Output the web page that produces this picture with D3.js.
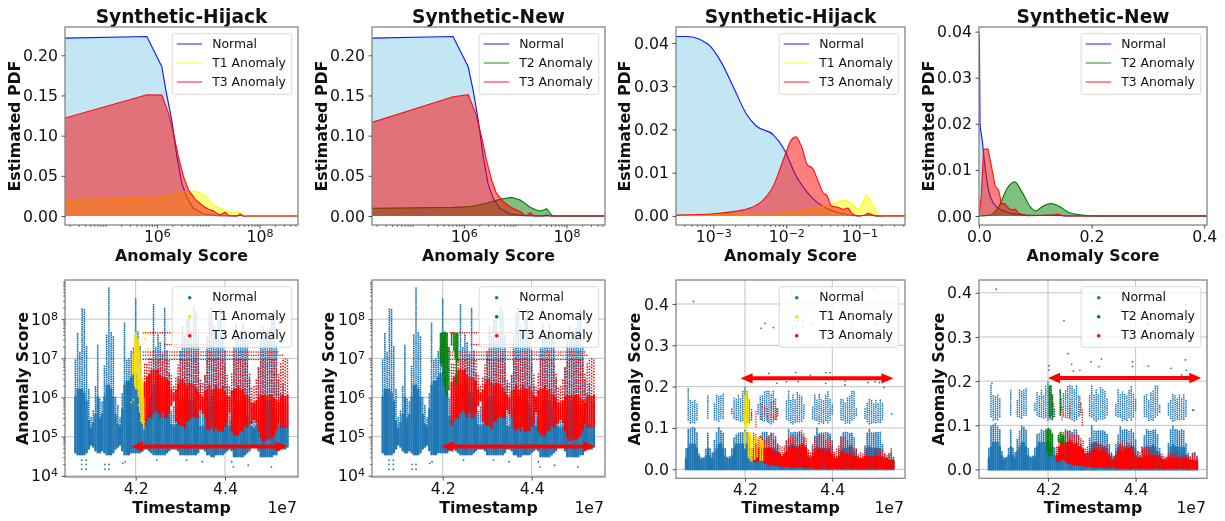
<!DOCTYPE html>
<html>
<head>
<meta charset="utf-8">
<title>Anomaly score panels</title>
<script src="https://cdn.jsdelivr.net/npm/d3@7"></script>
<style>
    html, body { margin: 0; padding: 0; background: #fff; }
    svg { display: block; filter: blur(0.45px); }
    text { font-family: "DejaVu Sans", sans-serif; fill: #111; }
</style>
</head>
<body>
<svg id="chart" width="1225" height="521"></svg>
<script>
// ---- PDF curves, log10(score) grids ----
const hijackNormalLog = [4.21, 5.805, 6.097, 6.175, 6.29, 6.39, 6.487, 6.58, 6.71, 6.91, 7.17, 7.55, 7.62, 7.68, 8.75];
const hijackNormalPdf = [0.2214, 0.2234, 0.1857, 0.1567, 0.1194, 0.0738, 0.0406, 0.024, 0.0095, 0.0025, 0.0004, 0.0001, 0.001, 0, 0];
const hijackT1Log = [4.21, 5.805, 6.195, 6.52, 6.78, 6.94, 7.1, 7.23, 7.33, 7.46, 7.59, 7.72, 7.79, 8.75];
const hijackT1Pdf = [0.0203, 0.022, 0.0253, 0.0303, 0.0307, 0.0253, 0.0137, 0.0095, 0.0062, 0.0033, 0.0054, 0.0004, 0, 0];
const hijackT3Log = [4.21, 5.805, 6.097, 6.227, 6.325, 6.42, 6.52, 6.617, 6.75, 6.877, 7.006, 7.1, 7.17, 7.23, 7.33, 7.4, 7.58, 7.62, 7.68, 8.75];
const hijackT3Pdf = [0.1219, 0.1509, 0.1505, 0.1277, 0.1028, 0.0738, 0.0489, 0.0323, 0.0207, 0.0137, 0.0083, 0.0066, 0.0033, 0.0012, 0.0046, 0.0004, 0.0001, 0.0025, 0, 0];

const newNormalLog = [4.21, 5.79, 6.084, 6.18, 6.28, 6.377, 6.47, 6.57, 6.7, 6.9, 7.16, 7.55, 7.62, 7.68, 8.75];
const newNormalPdf = [0.2214, 0.2234, 0.1857, 0.1567, 0.1194, 0.0738, 0.0406, 0.022, 0.0095, 0.0025, 0.0004, 0.0001, 0.001, 0, 0];
const newT2Log = [4.21, 5.79, 6.12, 6.44, 6.7, 6.93, 7.1, 7.29, 7.46, 7.52, 7.61, 7.71, 7.74, 8.75];
const newT2Pdf = [0.0095, 0.0108, 0.0116, 0.0158, 0.0207, 0.0232, 0.0199, 0.0108, 0.0062, 0.0066, 0.0091, 0.0012, 0, 0];
const newT3Log = [4.21, 5.79, 6.084, 6.23, 6.344, 6.44, 6.54, 6.636, 6.77, 6.9, 7.03, 7.1, 7.19, 7.22, 7.29, 7.36, 8.75];
const newT3Pdf = [0.1165, 0.1484, 0.1509, 0.1277, 0.0987, 0.0697, 0.0448, 0.0282, 0.0178, 0.0116, 0.0075, 0.0054, 0.0012, 0.0004, 0.0041, 0, 0];

// third panel, log10(score) again
const hijack2NormalLog = [-3.51, -3.356, -3.07, -2.895, -2.726, -2.54, -2.41, -2.18, -2.04, -1.86, -1.72, -1.56, -1.4, -1.22, -1.01, -0.9, -0.76, -0.374];
const hijack2NormalPdf = [0.0415, 0.0415, 0.0397, 0.0357, 0.0299, 0.0234, 0.0208, 0.0188, 0.0157, 0.0091, 0.0056, 0.0029, 0.0014, 0.0005, 0, 0.0002, 0, 0];
const hijack2T1Log = [-3.51, -2.59, -2, -1.72, -1.49, -1.36, -1.2, -1.13, -1.01, -0.97, -0.9, -0.83, -0.72, -0.65, -0.374];
const hijack2T1Pdf = [0.00015, 0.0004, 0.0008, 0.0014, 0.0022, 0.0028, 0.0036, 0.0031, 0.0015, 0.0025, 0.0047, 0.0029, 0.0002, 0, 0];
const hijack2T3Log = [-3.51, -3, -2.73, -2.54, -2.34, -2.18, -2.04, -1.93, -1.87, -1.79, -1.71, -1.64, -1.56, -1.49, -1.45, -1.38, -1.29, -1.22, -1.16, -1.1, -1.01, -0.92, -0.88, -0.81, -0.76, -0.374];
const hijack2T3Pdf = [0.0002, 0.0005, 0.001, 0.0016, 0.0033, 0.0068, 0.013, 0.0176, 0.0183, 0.016, 0.0118, 0.011, 0.0079, 0.0052, 0.0049, 0.0023, 0.002, 0.0015, 0.0018, 0.0006, 0, 0.0002, 0.0006, 0.0002, 0, 0];

// fourth panel, plain score
const new2NormalScore = [0.0006, 0.0018, 0.0053, 0.0112, 0.017, 0.026, 0.038, 0.0556, 0.079, 0.103, 0.1325, 0.156, 0.405];
const new2NormalPdf = [0.0393, 0.0201, 0.0168, 0.0103, 0.0056, 0.0027, 0.0014, 0.0006, 0.0002, 0.0001, 0.0002, 0, 0];
const new2T2Score = [0, 0.02, 0.035, 0.05, 0.0633, 0.076, 0.091, 0.101, 0.112, 0.128, 0.144, 0.159, 0.186, 0.21, 0.405];
const new2T2Pdf = [0, 0.0002, 0.002, 0.006, 0.0074, 0.0053, 0.002, 0.0011, 0.002, 0.0027, 0.002, 0.0008, 0.00015, 0, 0];
const new2T3Score = [0, 0.004, 0.008, 0.016, 0.021, 0.029, 0.035, 0.04, 0.0456, 0.0527, 0.0586, 0.0645, 0.07, 0.085, 0.1325, 0.14, 0.15, 0.405];
const new2T3Pdf = [0.0006, 0.0042, 0.0145, 0.0145, 0.0114, 0.0064, 0.0056, 0.0027, 0.0027, 0.0017, 0.0013, 0.0015, 0.0006, 0.0001, 0.0002, 0.0004, 0, 0];

// ---- Scatter columns: timestamps are in units of 1e7, as on the axis ----
const stripTimes = [4.065, 4.07, 4.075, 4.08, 4.085, 4.09, 4.095, 4.1, 4.105, 4.11, 4.115, 4.12, 4.125, 4.13, 4.135, 4.14, 4.145, 4.15, 4.155, 4.16, 4.165, 4.17, 4.175, 4.18, 4.185, 4.19, 4.195, 4.2, 4.205, 4.21, 4.215, 4.22, 4.225, 4.23, 4.235, 4.24, 4.245, 4.25, 4.255, 4.26, 4.265, 4.27, 4.275, 4.28, 4.285, 4.29, 4.295, 4.3, 4.305, 4.31, 4.315, 4.32, 4.325, 4.33, 4.335, 4.34, 4.345, 4.35, 4.355, 4.36, 4.365, 4.37, 4.375, 4.38, 4.385, 4.39, 4.395, 4.4, 4.405, 4.41, 4.415, 4.42, 4.425, 4.43, 4.435, 4.44, 4.445, 4.45, 4.455, 4.46, 4.465, 4.47, 4.475, 4.48, 4.485, 4.49, 4.495, 4.5, 4.505, 4.51, 4.515, 4.52, 4.525, 4.53, 4.535, 4.54];

// normal traffic on the log panels, log10(score): floor, top of solid part, top of dotted part
const logNormalLow = [4.6, 4.55, 4.55, 4.55, 4.55, 4.6, 4.7, 4.8, 4.75, 4.65, 4.6, 4.6, 4.65, 4.6, 4.55, 4.55, 4.55, 4.6, 4.7, 4.75, 4.8, 4.65, 4.55, 4.55, 4.55, 4.6, 4.6, 4.6, 4.6, 4.6, 4.65, 4.7, 4.7, 4.65, 4.6, 4.55, 4.55, 4.55, 4.55, 4.55, 4.55, 4.6, 4.65, 4.7, 4.7, 4.7, 4.65, 4.55, 4.55, 4.55, 4.55, 4.55, 4.55, 4.55, 4.55, 4.6, 4.7, 4.7, 4.65, 4.55, 4.55, 4.5, 4.5, 4.55, 4.55, 4.55, 4.55, 4.6, 4.65, 4.7, 4.65, 4.5, 4.5, 4.5, 4.5, 4.5, 4.55, 4.6, 4.65, 4.75, 4.75, 4.75, 4.65, 4.5, 4.5, 4.5, 4.5, 4.5, 4.5, 4.55, 4.55, 4.65, 4.7, 4.7, 4.7, 4.75];
const logNormalDense = [6.0, 6.2, 6.2, 6.2, 6.1, 5.9, 5.4, 5.2, 5.35, 5.55, 6.0, 5.45, 5.55, 6.0, 6.3, 6.3, 6.2, 6.0, 5.55, 5.3, 5.25, 5.7, 6.3, 6.4, 6.4, 6.5, 6.6, 6.6, 6.5, 6.1, 5.5, 5.4, 5.4, 5.6, 6.0, 6.3, 6.3, 6.3, 6.3, 6.1, 6.1, 6.0, 5.6, 5.3, 5.25, 5.3, 5.5, 5.9, 6.0, 6.0, 6.0, 5.9, 5.9, 5.9, 5.8, 5.5, 5.25, 5.25, 5.5, 5.7, 5.9, 6.0, 6.0, 5.9, 5.9, 5.9, 5.8, 5.5, 5.3, 5.25, 5.4, 5.7, 5.9, 5.9, 5.9, 5.9, 5.8, 5.5, 5.35, 5.25, 5.2, 5.25, 5.4, 5.7, 5.9, 5.9, 5.9, 5.9, 5.8, 5.7, 5.5, 5.3, 5.25, 5.3, 5.25, 5.25];
const logNormalTop = [7.0, 7.65, 7.2, 8.3, 8.25, 7.3, 6.2, 5.5, 5.7, 6.3, 7.35, 6.0, 5.9, 6.8, 7.6, 8.8, 7.7, 7.6, 6.0, 5.8, 5.5, 6.1, 7.9, 7.0, 7.0, 7.2, 7.3, 8.55, 7.7, 7.3, 6.0, 5.8, 5.7, 6.0, 6.6, 8.4, 7.3, 7.6, 7.4, 7.1, 8.27, 7.2, 6.6, 5.7, 5.8, 5.7, 6.5, 7.2, 7.8, 7.6, 8.0, 8.1, 7.7, 8.3, 8.2, 7.6, 6.4, 5.9, 6.6, 7.6, 8.2, 8.3, 7.8, 7.6, 8.0, 8.25, 7.6, 7.2, 6.3, 5.6, 6.2, 7.3, 7.9, 7.5, 7.7, 7.9, 7.7, 7.4, 6.5, 5.7, 5.5, 5.6, 6.8, 7.5, 7.8, 7.6, 7.7, 7.8, 8.0, 8.25, 7.3, 6.5, 6.1, 6.4, 5.9, 5.8];
const logNormalStrayT = [4.079, 4.089, 4.079, 4.089, 4.079, 4.089, 4.131, 4.14, 4.131, 4.14, 4.176, 4.171, 4.419, 4.415, 4.504, 4.452, 4.349, 4.247, 4.314];
const logNormalStrayE = [4.17, 4.17, 4.29, 4.29, 4.4, 4.4, 4.17, 4.17, 4.29, 4.29, 4.36, 4.32, 4.23, 4.36, 4.23, 4.27, 4.36, 4.4, 4.4];

// T3 anomalies on the log panels, columns from t = 4.22 on
const logT3Low = [5.3, 5.4, 5.5, 5.5, 5.6, 5.7, 5.6, 5.5, 5.6, 5.5, 5.5, 5.6, 5.8, 5.9, 5.4, 5.3, 5.3, 5.3, 5.2, 5.4, 5.4, 5.5, 5.5, 5.5, 5.5, 5.7, 5.6, 5.5, 5.2, 5.15, 5.25, 5.15, 5.25, 5.15, 5.15, 5.15, 5.25, 5.35, 5.6, 5.15, 5.05, 5.05, 5.05, 5.15, 5.15, 5.25, 5.25, 5.35, 5.35, 5.45, 5.35, 5.15, 4.95, 4.9, 4.9, 4.95, 4.95, 4.95, 5.05, 5.15, 5.35, 5.25, 5.25, 5.25, 5.25];
const logT3Dense = [6.4, 6.5, 6.6, 6.7, 6.7, 6.7, 6.7, 6.6, 6.5, 6.5, 6.45, 6.4, 6.2, 6.1, 6.2, 6.35, 6.45, 6.45, 6.35, 6.3, 6.35, 6.35, 6.3, 6.25, 6.15, 6.05, 6.0, 6.15, 6.2, 6.3, 6.2, 6.2, 6.3, 6.2, 6.2, 6.3, 6.15, 6.05, 6.0, 6.15, 6.2, 6.2, 6.3, 6.2, 6.2, 6.1, 6.05, 5.95, 5.85, 5.85, 5.9, 6.0, 6.05, 6.05, 6.05, 6.05, 6.1, 6.05, 6.0, 5.9, 5.85, 6.0, 6.05, 6.05, 6.05];
const logT3Top = [6.9, 6.9, 7.0, 7.0, 7.0, 7.0, 7.0, 7.0, 7.0, 7.0, 7.0, 7.0, 6.6, 6.3, 6.5, 6.9, 7.0, 7.0, 7.0, 7.0, 7.0, 7.0, 7.0, 7.0, 6.9, 6.5, 6.4, 6.6, 7.0, 7.0, 7.0, 7.0, 7.0, 7.0, 7.0, 7.0, 6.9, 6.6, 6.3, 6.6, 7.0, 7.0, 7.0, 7.0, 7.0, 7.0, 6.9, 6.6, 6.3, 6.3, 6.5, 6.8, 7.0, 7.0, 7.0, 7.0, 7.0, 7.0, 7.0, 7.0, 6.6, 6.9, 7.0, 7.0, 7.0];
// the score levels where T3 points line up in rows
const logRowLevel = [7.65, 7.35, 7.16, 7.08, 6.97];
const logRowStart = [4.217, 4.265, 4.217, 4.217, 4.217];
const logRowEnd = [4.374, 4.36, 4.52, 4.53, 4.515];

// T1 / T2 columns on the log panels
const logT1Times = [4.194, 4.198, 4.2, 4.203, 4.206, 4.209, 4.212, 4.215, 4.218];
const logT1Low = [6.6, 6.3, 6.2, 6.2, 6.0, 5.6, 5.4, 5.3, 5.2];
const logT1High = [7.1, 7.6, 7.65, 7.6, 7.45, 7.2, 6.9, 6.5, 6.0];
const logT1StrayT = [4.195, 4.19, 4.206, 4.214, 4.214, 4.219, 4.219, 4.226, 4.22, 4.228, 4.244];
const logT1StrayE = [5.94, 5.88, 5.8, 5.64, 5.41, 5.38, 7.65, 7.65, 7.5, 7.25, 7.3];
const logT2Times = [4.195, 4.198, 4.201, 4.204, 4.207, 4.21, 4.214, 4.22, 4.225, 4.228, 4.231, 4.234];
const logT2Low = [6.9, 6.8, 6.6, 6.3, 6.1, 6.0, 6.2, 7.3, 7.2, 7.0, 6.3, 6.9];
const logT2High = [7.65, 7.65, 7.65, 7.65, 7.65, 7.65, 7.3, 7.65, 7.65, 7.65, 7.65, 7.65];

// normal traffic on the linear panels
const linNormalDense = [0.025, 0.05, 0.06, 0.06, 0.06, 0.05, 0.03, 0.022, 0.025, 0.03, 0.05, 0.03, 0.025, 0.04, 0.05, 0.06, 0.06, 0.05, 0.03, 0.025, 0.025, 0.03, 0.05, 0.06, 0.06, 0.06, 0.06, 0.06, 0.06, 0.05, 0.03, 0.025, 0.025, 0.03, 0.04, 0.05, 0.05, 0.05, 0.05, 0.05, 0.05, 0.05, 0.03, 0.025, 0.022, 0.025, 0.04, 0.055, 0.06, 0.06, 0.055, 0.055, 0.05, 0.05, 0.045, 0.03, 0.025, 0.025, 0.03, 0.05, 0.055, 0.05, 0.05, 0.05, 0.05, 0.05, 0.05, 0.03, 0.025, 0.022, 0.025, 0.045, 0.05, 0.05, 0.05, 0.055, 0.05, 0.04, 0.03, 0.022, 0.022, 0.022, 0.03, 0.05, 0.055, 0.05, 0.05, 0.05, 0.05, 0.05, 0.03, 0.025, 0.02, 0.02, 0.02, 0.02];
const linNormalSparse = [0.05, 0.1, 0.1, 0.105, 0.1, 0.09, 0.04, 0.03, 0.03, 0.05, 0.09, 0.05, 0.04, 0.07, 0.09, 0.1, 0.095, 0.09, 0.05, 0.03, 0.03, 0.05, 0.08, 0.085, 0.09, 0.09, 0.09, 0.095, 0.09, 0.08, 0.05, 0.04, 0.05, 0.05, 0.08, 0.09, 0.09, 0.09, 0.085, 0.09, 0.09, 0.08, 0.06, 0.04, 0.03, 0.04, 0.07, 0.1, 0.09, 0.09, 0.09, 0.09, 0.09, 0.085, 0.08, 0.06, 0.04, 0.03, 0.06, 0.08, 0.1, 0.09, 0.09, 0.09, 0.09, 0.09, 0.085, 0.07, 0.04, 0.03, 0.05, 0.08, 0.09, 0.09, 0.09, 0.09, 0.09, 0.08, 0.05, 0.03, 0.025, 0.03, 0.06, 0.09, 0.1, 0.09, 0.09, 0.09, 0.09, 0.09, 0.06, 0.04, 0.03, 0.04, 0.04, 0.03];
const linNormalUpperLow = [0, 0.12, 0.11, 0.11, 0.11, 0.12, 0, 0, 0, 0, 0.12, 0, 0, 0.12, 0.115, 0.115, 0.12, 0.12, 0, 0, 0, 0.13, 0.12, 0.12, 0.115, 0.115, 0.115, 0.11, 0.11, 0.11, 0.12, 0, 0, 0.13, 0.12, 0.115, 0.115, 0.115, 0.11, 0.11, 0.11, 0.12, 0.13, 0, 0, 0, 0.12, 0.115, 0.11, 0.11, 0.11, 0.115, 0.11, 0.115, 0.12, 0, 0, 0, 0.12, 0.115, 0.115, 0.11, 0.11, 0.11, 0.115, 0.11, 0.115, 0.13, 0, 0, 0, 0.12, 0.115, 0.11, 0.11, 0.11, 0.115, 0.12, 0.13, 0, 0, 0, 0.12, 0.115, 0.11, 0.11, 0.11, 0.11, 0.115, 0.11, 0.12, 0, 0, 0.13, 0, 0];
const linNormalUpperHigh = [0, 0.19, 0.17, 0.165, 0.17, 0.16, 0, 0, 0, 0, 0.18, 0, 0, 0.16, 0.18, 0.18, 0.18, 0.185, 0, 0, 0, 0.15, 0.175, 0.17, 0.18, 0.17, 0.19, 0.2, 0.19, 0.17, 0.14, 0, 0, 0.16, 0.175, 0.18, 0.19, 0.19, 0.19, 0.18, 0.19, 0.17, 0.15, 0, 0, 0, 0.17, 0.19, 0.17, 0.18, 0.17, 0.19, 0.18, 0.18, 0.16, 0, 0, 0, 0.15, 0.18, 0.17, 0.18, 0.17, 0.17, 0.18, 0.19, 0.17, 0.16, 0, 0, 0, 0.17, 0.17, 0.16, 0.175, 0.18, 0.19, 0.19, 0.15, 0, 0, 0, 0.15, 0.16, 0.17, 0.17, 0.16, 0.17, 0.16, 0.17, 0.16, 0, 0, 0.135, 0, 0];

// T3 anomalies on the linear panels, columns from t = 4.22 on
const linT3Low = [0.02, 0.02, 0.02, 0.025, 0.02, 0.015, 0.015, 0.012, 0.012, 0.01, 0.01, 0.01, 0.01, 0.008, 0.008, 0.008, 0.006, 0.006, 0.006, 0.006, 0.006, 0.006, 0.006, 0.005, 0.005, 0.005, 0.005, 0.005, 0.004, 0.004, 0.004, 0.004, 0.004, 0.004, 0.004, 0.004, 0.004, 0.004, 0.004, 0.004, 0.004, 0.004, 0.004, 0.004, 0.004, 0.004, 0.004, 0.004, 0.004, 0.004, 0.004, 0.004, 0.004, 0.004, 0.004, 0.004, 0.004, 0.004, 0.004, 0.004, 0.003, 0.003, 0.003, 0.003, 0.003];
const hijackT3Dense = [0.05, 0.06, 0.05, 0.05, 0.05, 0.045, 0.05, 0.05, 0.05, 0.045, 0.04, 0.04, 0.035, 0.03, 0.035, 0.04, 0.05, 0.05, 0.055, 0.05, 0.05, 0.055, 0.06, 0.055, 0.05, 0.03, 0.025, 0.03, 0.04, 0.045, 0.05, 0.045, 0.05, 0.04, 0.045, 0.04, 0.035, 0.025, 0.025, 0.03, 0.04, 0.04, 0.04, 0.035, 0.035, 0.03, 0.03, 0.03, 0.025, 0.025, 0.025, 0.03, 0.03, 0.03, 0.03, 0.03, 0.03, 0.03, 0.028, 0.028, 0.025, 0.025, 0.02, 0.02, 0.02];
const hijackT3Sparse = [0.09, 0.085, 0.08, 0.08, 0.08, 0.075, 0.08, 0.08, 0.085, 0.075, 0.07, 0.065, 0.06, 0.055, 0.06, 0.07, 0.08, 0.08, 0.085, 0.08, 0.085, 0.09, 0.095, 0.09, 0.075, 0.05, 0.04, 0.05, 0.08, 0.08, 0.085, 0.08, 0.085, 0.07, 0.085, 0.08, 0.06, 0.045, 0.05, 0.06, 0.08, 0.08, 0.08, 0.07, 0.06, 0.06, 0.05, 0.05, 0.04, 0.04, 0.04, 0.05, 0.05, 0.05, 0.05, 0.05, 0.05, 0.045, 0.045, 0.05, 0.04, 0.035, 0.04, 0.05, 0.03];
const newT3Dense = [0.03, 0.05, 0.065, 0.06, 0.06, 0.06, 0.065, 0.06, 0.055, 0.06, 0.05, 0.05, 0.045, 0.035, 0.035, 0.035, 0.04, 0.045, 0.045, 0.045, 0.04, 0.045, 0.04, 0.035, 0.03, 0.02, 0.02, 0.03, 0.04, 0.045, 0.04, 0.045, 0.045, 0.045, 0.05, 0.04, 0.03, 0.025, 0.025, 0.025, 0.03, 0.03, 0.03, 0.03, 0.03, 0.03, 0.03, 0.025, 0.02, 0.02, 0.02, 0.025, 0.025, 0.025, 0.025, 0.025, 0.025, 0.025, 0.025, 0.025, 0.02, 0.02, 0.02, 0.018, 0.015];
const newT3Sparse = [0.05, 0.07, 0.085, 0.085, 0.085, 0.085, 0.09, 0.08, 0.08, 0.08, 0.075, 0.07, 0.065, 0.05, 0.05, 0.06, 0.06, 0.06, 0.06, 0.065, 0.06, 0.055, 0.055, 0.055, 0.04, 0.035, 0.03, 0.045, 0.06, 0.06, 0.065, 0.055, 0.06, 0.06, 0.06, 0.055, 0.05, 0.04, 0.04, 0.05, 0.05, 0.055, 0.05, 0.045, 0.05, 0.045, 0.04, 0.04, 0.035, 0.03, 0.03, 0.035, 0.04, 0.035, 0.035, 0.04, 0.035, 0.035, 0.035, 0.035, 0.03, 0.03, 0.035, 0.04, 0.03];

// smaller columns on the linear panels: [time, low, high]
const hijackT3Upper = [[4.215, 0.12, 0.15], [4.225, 0.1, 0.14], [4.238, 0.115, 0.16], [4.245, 0.125, 0.155], [4.252, 0.115, 0.15], [4.26, 0.115, 0.165], [4.266, 0.12, 0.17], [4.272, 0.115, 0.15]];
const newT3Upper = [[4.213, 0.12, 0.15], [4.232, 0.11, 0.145], [4.25, 0.11, 0.15], [4.273, 0.12, 0.165], [4.278, 0.1, 0.14], [4.273, 0.22, 0.23]];
const hijackT1Columns = [[4.2, 0.1, 0.18], [4.204, 0.1, 0.19], [4.208, 0.105, 0.175], [4.2, 0.05, 0.09], [4.208, 0.025, 0.09], [4.212, 0.02, 0.09], [4.216, 0.02, 0.08], [4.222, 0.02, 0.08], [4.228, 0.03, 0.08], [4.235, 0.02, 0.075], [4.24, 0.02, 0.07]];
const newT2Columns = [[4.198, 0.04, 0.09], [4.202, 0.03, 0.095], [4.206, 0.03, 0.09], [4.21, 0.03, 0.08], [4.203, 0.115, 0.19], [4.207, 0.12, 0.19], [4.21, 0.115, 0.17], [4.224, 0.06, 0.08], [4.228, 0.06, 0.085], [4.232, 0.055, 0.08], [4.236, 0.06, 0.075], [4.228, 0.12, 0.18]];

// isolated normal points on the linear panels
const hijackStrayT = [4.082, 4.237, 4.246, 4.265, 4.307, 4.496, 4.309, 4.316, 4.322, 4.332, 4.332, 4.356, 4.447, 4.498, 4.255, 4.295, 4.316, 4.322, 4.35, 4.385, 4.395, 4.385, 4.429, 4.429, 4.482, 4.498, 4.508, 4.519, 4.536, 4.07, 4.273];
const hijackStrayV = [0.406, 0.341, 0.353, 0.343, 0.431, 0.436, 0.341, 0.347, 0.359, 0.361, 0.345, 0.353, 0.349, 0.353, 0.232, 0.212, 0.234, 0.212, 0.228, 0.234, 0.234, 0.208, 0.214, 0.204, 0.21, 0.212, 0.21, 0.198, 0.134, 0.194, 0.208];
const newStrayT = [4.082, 4.2365, 4.246, 4.254, 4.202, 4.202, 4.258, 4.298, 4.322, 4.316, 4.393, 4.393, 4.429, 4.481, 4.514, 4.505, 4.516, 4.533, 4.072, 4.514, 4.429, 4.516];
const newStrayV = [0.408, 0.337, 0.262, 0.238, 0.235, 0.225, 0.223, 0.244, 0.25, 0.233, 0.244, 0.233, 0.234, 0.229, 0.248, 0.214, 0.225, 0.134, 0.195, 0.373, 0.329, 0.333];

// arrows marking the attack period: from time, to time, score level
const logArrow = [4.19, 4.54, 4.75];
const newLogArrow = [4.197, 4.543, 4.75];
const hijackArrow = [4.19, 4.54, 0.22];
const newArrow = [4.2, 4.55, 0.207];

const NORMAL_LINE = 'blue';
const NORMAL_FILL = 'skyblue';
const DOT_BLUE = '#1f77b4';
const YELLOW = 'yellow';
const DOT_YELLOW = '#ffe000';
const GREEN = 'green';
const RED = 'red';
const SPINE = '#858585';

const svg = d3.select('#chart');
let clipCount = 0;

/**
 * Make a clipped plot group, plus title and x label
 */
function makeFrame(box, titleText, xLabel, labelY) {
    const clipId = `clip-${clipCount++}`;
    svg.append('clipPath').attr('id', clipId)
        .append('rect')
        .attr('x', box.left).attr('y', box.top)
        .attr('width', box.right - box.left).attr('height', box.bottom - box.top);

    if (titleText) {
        svg.append('text')
            .attr('x', (box.left + box.right) / 2)
            .attr('y', 16.7)
            .attr('dy', '0.36em')
            .attr('text-anchor', 'middle')
            .style('font-size', '18.6px')
            .style('font-weight', 'bold')
            .text(titleText);
    }

    svg.append('text')
        .attr('x', (box.left + box.right) / 2)
        .attr('y', labelY)
        .attr('dy', '0.36em')
        .attr('text-anchor', 'middle')
        .style('font-size', '15.8px')
        .style('font-weight', 'bold')
        .text(xLabel);

    return { plot: svg.append('g').attr('clip-path', `url(#${clipId})`) };
}

function addYLabel(box, text, x) {
    svg.append('text')
        .attr('transform', `translate(${x},${(box.top + box.bottom) / 2}) rotate(-90)`)
        .attr('dy', '0.36em')
        .attr('text-anchor', 'middle')
        .style('font-size', '15.8px')
        .style('font-weight', 'bold')
        .text(text);
}

/**
 * Draw one axis through d3.axis, with minor ticks and optional log labels
 */
function addAxis(maker, scale, box, major, minor, format, isLog) {
    const horizontal = maker === d3.axisBottom;
    const pos = horizontal ? `translate(0,${box.bottom})` : `translate(${box.left},0)`;
    const [d0, d1] = d3.extent(scale.domain());
    const inside = minor.filter(v => v >= d0 && v <= d1);

    if (inside.length) {
        const small = svg.append('g').attr('transform', pos)
            .call(maker(scale).tickValues(inside).tickSize(2).tickFormat(''));
        small.select('.domain').remove();
        small.selectAll('line').attr('stroke', '#222').attr('stroke-width', 0.6);
    }

    const ax = svg.append('g').attr('transform', pos)
        .call(maker(scale).tickValues(major).tickSize(3.5).tickPadding(horizontal ? 2 : 3.5)
            .tickFormat(isLog ? '' : format));
    ax.select('.domain').remove();
    ax.selectAll('line').attr('stroke', '#222').attr('stroke-width', 0.8);
    ax.selectAll('text')
        .style('font-family', '"DejaVu Sans", sans-serif')
        .style('font-size', '15.7px')
        .attr('fill', '#111');

    if (isLog) {
        // 10 with raised exponent
        ax.selectAll('text').each(function(d) {
            const t = d3.select(this);
            t.text('10');
            t.append('tspan').attr('dy', '-0.45em').style('font-size', '11px')
                .text(String(Math.round(Math.log10(d))).replace('-', '\u2212'));
        });
        if (horizontal) ax.selectAll('text').attr('dy', '0.72em');
    }
}

function addSpines(box) {
    svg.append('rect')
        .attr('x', box.left).attr('y', box.top)
        .attr('width', box.right - box.left).attr('height', box.bottom - box.top)
        .attr('fill', 'none')
        .attr('stroke', SPINE)
        .attr('stroke-width', 1.3);
}

function addLegend(box, labels, colors, dots) {
    const w = 119.5;
    const h = 60.6;
    const x0 = box.right - 6.3 - w;
    const y0 = box.top + 6.7;
    const rows = [10.3, 29.3, 48.3];
    const g = svg.append('g').attr('class', 'legend');

    g.append('rect')
        .attr('x', x0).attr('y', y0)
        .attr('width', w).attr('height', h)
        .attr('rx', 2.5)
        .attr('fill', 'white').attr('fill-opacity', 0.8)
        .attr('stroke', '#d5d5d5').attr('stroke-width', 0.9);

    labels.forEach((label, i) => {
        if (dots) {
            g.append('circle')
                .attr('cx', x0 + 17.5).attr('cy', y0 + rows[i] + 0.7)
                .attr('r', 1.8).attr('fill', colors[i]);
        } else {
            g.append('line')
                .attr('x1', x0 + 4.5).attr('x2', x0 + 30)
                .attr('y1', y0 + rows[i]).attr('y2', y0 + rows[i])
                .attr('stroke', colors[i]).attr('stroke-width', 1.5)
                .attr('stroke-opacity', 0.6);
        }
        g.append('text')
            .attr('x', x0 + 40).attr('y', y0 + rows[i])
            .attr('dy', '0.36em')
            .style('font-size', '12.4px')
            .text(label);
    });
}

/**
 * Top row: filled density curves
 */
function densityPanel(p) {
    const frame = makeFrame(p.box, p.title, 'Anomaly Score', 255);
    addYLabel(p.box, 'Estimated PDF', p.yLabelX);

    const x = p.log
        ? d3.scaleLog().domain(p.xDomain.map(e => 10 ** e)).range([p.box.left, p.box.right])
        : d3.scaleLinear().domain(p.xDomain).range([p.box.left, p.box.right]);
    const y = d3.scaleLinear().domain(p.yDomain).range([p.box.bottom, p.box.top]);
    const xOf = v => x(p.log ? 10 ** v : v);

    p.curves.forEach(c => {
        const pts = d3.zip(c.xs, c.ys);
        const shape = c.smooth ? d3.curveMonotoneX : d3.curveLinear;
        frame.plot.append('path')
            .attr('d', d3.area().curve(shape).x(d => xOf(d[0])).y0(y(0)).y1(d => y(d[1]))(pts))
            .attr('fill', c.fill).attr('fill-opacity', 0.5);
        frame.plot.append('path')
            .attr('d', d3.line().curve(shape).x(d => xOf(d[0])).y(d => y(d[1]))(pts))
            .attr('fill', 'none')
            .attr('stroke', c.line).attr('stroke-width', 1.15)
            .attr('stroke-opacity', c.lineOpacity);
    });

    addSpines(p.box);
    addAxis(d3.axisLeft, y, p.box, p.yTicks, [], p.yFormat, false);
    addAxis(d3.axisBottom, x, p.box, p.xTicks, p.xMinor, p.xFormat, p.log);
    addLegend(p.box, p.labels, p.curves.map(c => c.line), false);
}

function strips(plot, cols, x, y, color, width, dash) {
    plot.append('g').selectAll('line')
        .data(cols)
        .join('line')
        .attr('x1', d => x(d[0])).attr('x2', d => x(d[0]))
        .attr('y1', d => y(d[1])).attr('y2', d => y(d[2]))
        .attr('stroke', color)
        .attr('stroke-width', width)
        .attr('stroke-linecap', dash ? 'round' : 'butt')
        .attr('stroke-dasharray', dash)
        .attr('stroke-dashoffset', (d, i) => (dash ? (i * 1.3) % 3 : 0));
}

function dotsAt(plot, xs, ys, x, y, color) {
    plot.append('g').selectAll('circle')
        .data(d3.zip(xs, ys))
        .join('circle')
        .attr('cx', d => x(d[0])).attr('cy', d => y(d[1]))
        .attr('r', 0.9)
        .attr('fill', color);
}

function drawArrow(plot, arrow, x, y) {
    const x0 = x(arrow[0]);
    const x1 = x(arrow[1]);
    const ym = y(arrow[2]);
    plot.append('path')
        .attr('d', `M${x0},${ym}L${x0 + 12},${ym - 5.2}L${x0 + 12},${ym - 2}L${x1 - 12},${ym - 2}L${x1 - 12},${ym - 5.2}L${x1},${ym}L${x1 - 12},${ym + 5.2}L${x1 - 12},${ym + 2}L${x0 + 12},${ym + 2}L${x0 + 12},${ym + 5.2}Z`)
        .attr('fill', RED);
}

/**
 * Bottom row: scatter columns on log or linear score axis
 */
function scatterPanel(p) {
    const frame = makeFrame(p.box, null, 'Timestamp', 507);
    addYLabel(p.box, 'Anomaly Score', p.yLabelX);

    svg.append('text')
        .attr('x', p.box.right - 1)
        .attr('y', 507)
        .attr('dy', '0.36em')
        .attr('text-anchor', 'end')
        .style('font-size', '15.7px')
        .text('1e7');

    const x = d3.scaleLinear().domain(p.tDomain).range([p.box.left, p.box.right]);
    const yRaw = p.log
        ? d3.scaleLog().domain(p.yDomain.map(e => 10 ** e)).range([p.box.bottom, p.box.top])
        : d3.scaleLinear().domain(p.yDomain).range([p.box.bottom, p.box.top]);
    const y = v => yRaw(p.log ? 10 ** v : v);

    // grid under the marks
    const grid = frame.plot.append('g').attr('stroke', '#c2c2c2').attr('stroke-width', 1);
    p.tTicks.forEach(t => grid.append('line')
        .attr('x1', x(t)).attr('x2', x(t)).attr('y1', p.box.top).attr('y2', p.box.bottom));
    p.yTicks.forEach(v => grid.append('line')
        .attr('x1', p.box.left).attr('x2', p.box.right).attr('y1', yRaw(v)).attr('y2', yRaw(v)));

    p.draw(frame.plot, x, y);

    addSpines(p.box);
    addAxis(d3.axisLeft, yRaw, p.box, p.yTicks, p.yMinor, p.yFormat, p.log);
    addAxis(d3.axisBottom, x, p.box, p.tTicks, [], d3.format('.1f'), false);
    addLegend(p.box, p.labels, p.dotColors, true);
}

// columns of [time, low, high] for the long arrays
function cols(times, low, high) {
    return d3.zip(times, low, high).filter(d => d[2] > 0);
}

const attackTimes = stripTimes.slice(31);

function drawLogMarks(plot, x, y, special, strayT, strayE, color, arrow) {
    strips(plot, cols(stripTimes, logNormalLow, logNormalDense), x, y, DOT_BLUE, 2.5, '3 0.4');
    strips(plot, cols(stripTimes, logNormalDense, logNormalTop), x, y, DOT_BLUE, 1.9, '0 2.2');
    dotsAt(plot, logNormalStrayT, logNormalStrayE, x, y, DOT_BLUE);

    strips(plot, cols(attackTimes, logT3Low, logT3Dense), x, y, RED, 2.2, '1.4 1.3');
    strips(plot, cols(attackTimes, logT3Dense, logT3Top), x, y, RED, 1.7, '0 2.9');
    logRowLevel.forEach((level, i) => {
        plot.append('line')
            .attr('x1', x(logRowStart[i])).attr('x2', x(logRowEnd[i]))
            .attr('y1', y(level)).attr('y2', y(level))
            .attr('stroke', RED).attr('stroke-width', 1.6)
            .attr('stroke-linecap', 'round').attr('stroke-dasharray', '0 2.4');
    });

    strips(plot, special, x, y, color, 1.9, '0 1.9');
    dotsAt(plot, strayT, strayE, x, y, color);
    drawArrow(plot, arrow, x, y);
}

function drawLinMarks(plot, x, y, opt) {
    const zero = stripTimes.map(() => 0);
    strips(plot, cols(stripTimes, zero, linNormalDense), x, y, DOT_BLUE, 2.5, '3 0.4');
    strips(plot, cols(stripTimes, linNormalDense, linNormalSparse), x, y, DOT_BLUE, 1.9, '0 2');
    strips(plot, cols(stripTimes, linNormalUpperLow, linNormalUpperHigh), x, y, DOT_BLUE, 1.7, '0 2.2');
    dotsAt(plot, opt.strayT, opt.strayV, x, y, DOT_BLUE);

    strips(plot, cols(attackTimes, linT3Low, opt.dense), x, y, RED, 2.5, '2.6 0.5');
    strips(plot, cols(attackTimes, opt.dense, opt.sparse), x, y, RED, 1.6, '0 2.2');
    strips(plot, opt.upper, x, y, RED, 1.5, '0 2.5');

    strips(plot, opt.special, x, y, opt.color, 1.9, '0 1.9');
    drawArrow(plot, opt.arrow, x, y);
}

// ---- Panels ----
const exp2to9 = [2, 3, 4, 5, 6, 7, 8, 9];
const minorsFor = decades => decades.flatMap(d => exp2to9.map(m => m * 10 ** d));

const boxes = [
    { left: 65, right: 298 },
    { left: 372, right: 605 },
    { left: 676, right: 905 },
    { left: 979, right: 1207 }
];
const topBox = i => ({ ...boxes[i], top: 27, bottom: 225 });
const lowBox = i => ({ ...boxes[i], top: 280, bottom: i < 2 ? 477 : 478.3 });

const fmt2 = d3.format('.2f');
const fmt1 = d3.format('.1f');
const logMajors = [1e6, 1e8];
const logMinors = minorsFor([4, 5, 6, 7, 8]).concat([1e5, 1e7]);

densityPanel({
    box: topBox(0), title: 'Synthetic-Hijack', yLabelX: 14, log: true,
    xDomain: [4.21, 8.75], yDomain: [-0.0112, 0.2352],
    xTicks: logMajors, xMinor: logMinors, yTicks: [0, 0.05, 0.1, 0.15, 0.2], yFormat: fmt2,
    labels: ['Normal', 'T1 Anomaly', 'T3 Anomaly'],
    curves: [
        { xs: hijackNormalLog, ys: hijackNormalPdf, fill: NORMAL_FILL, line: NORMAL_LINE, lineOpacity: 0.9 },
        { xs: hijackT1Log, ys: hijackT1Pdf, fill: YELLOW, line: YELLOW, lineOpacity: 1 },
        { xs: hijackT3Log, ys: hijackT3Pdf, fill: RED, line: RED, lineOpacity: 0.9 }
    ]
});
densityPanel({
    box: topBox(1), title: 'Synthetic-New', yLabelX: 321.7, log: true,
    xDomain: [4.21, 8.75], yDomain: [-0.0112, 0.2352],
    xTicks: logMajors, xMinor: logMinors, yTicks: [0, 0.05, 0.1, 0.15, 0.2], yFormat: fmt2,
    labels: ['Normal', 'T2 Anomaly', 'T3 Anomaly'],
    curves: [
        { xs: newNormalLog, ys: newNormalPdf, fill: NORMAL_FILL, line: NORMAL_LINE, lineOpacity: 0.9 },
        { xs: newT2Log, ys: newT2Pdf, fill: GREEN, line: GREEN, lineOpacity: 1 },
        { xs: newT3Log, ys: newT3Pdf, fill: RED, line: RED, lineOpacity: 0.9 }
    ]
});
densityPanel({
    box: topBox(2), title: 'Synthetic-Hijack', yLabelX: 624, log: true,
    xDomain: [-3.51, -0.374], yDomain: [-0.0021, 0.0437],
    xTicks: [1e-3, 1e-2, 1e-1], xMinor: minorsFor([-4, -3, -2, -1]), yTicks: [0, 0.01, 0.02, 0.03, 0.04], yFormat: fmt2,
    labels: ['Normal', 'T1 Anomaly', 'T3 Anomaly'],
    curves: [
        { xs: hijack2NormalLog, ys: hijack2NormalPdf, fill: NORMAL_FILL, line: NORMAL_LINE, lineOpacity: 0.9, smooth: true },
        { xs: hijack2T1Log, ys: hijack2T1Pdf, fill: YELLOW, line: YELLOW, lineOpacity: 1, smooth: true },
        { xs: hijack2T3Log, ys: hijack2T3Pdf, fill: RED, line: RED, lineOpacity: 0.9, smooth: true }
    ]
});
densityPanel({
    box: topBox(3), title: 'Synthetic-New', yLabelX: 928, log: false,
    xDomain: [0, 0.405], yDomain: [-0.00195, 0.041],
    xTicks: [0, 0.2, 0.4], xMinor: [], xFormat: fmt1, yTicks: [0, 0.01, 0.02, 0.03, 0.04], yFormat: fmt2,
    labels: ['Normal', 'T2 Anomaly', 'T3 Anomaly'],
    curves: [
        { xs: new2NormalScore, ys: new2NormalPdf, fill: NORMAL_FILL, line: NORMAL_LINE, lineOpacity: 0.9, smooth: true },
        { xs: new2T2Score, ys: new2T2Pdf, fill: GREEN, line: GREEN, lineOpacity: 1, smooth: true },
        { xs: new2T3Score, ys: new2T3Pdf, fill: RED, line: RED, lineOpacity: 0.9 }
    ]
});

const logYTicks = [1e4, 1e5, 1e6, 1e7, 1e8];
const logYMinor = minorsFor([4, 5, 6, 7, 8]);

scatterPanel({
    box: lowBox(0), yLabelX: 22.7, log: true,
    tDomain: [4.0417, 4.5635], yDomain: [3.97, 9.0],
    tTicks: [4.2, 4.4], yTicks: logYTicks, yMinor: logYMinor,
    labels: ['Normal', 'T1 Anomaly', 'T3 Anomaly'], dotColors: [DOT_BLUE, DOT_YELLOW, RED],
    draw: (plot, x, y) => drawLogMarks(plot, x, y, cols(logT1Times, logT1Low, logT1High), logT1StrayT, logT1StrayE, DOT_YELLOW, logArrow)
});
scatterPanel({
    box: lowBox(1), yLabelX: 328, log: true,
    tDomain: [4.041, 4.565], yDomain: [3.97, 9.0],
    tTicks: [4.2, 4.4], yTicks: logYTicks, yMinor: logYMinor,
    labels: ['Normal', 'T2 Anomaly', 'T3 Anomaly'], dotColors: [DOT_BLUE, GREEN, RED],
    draw: (plot, x, y) => drawLogMarks(plot, x, y, cols(logT2Times, logT2Low, logT2High), [], [], GREEN, newLogArrow)
});
scatterPanel({
    box: lowBox(2), yLabelX: 634, log: false,
    tDomain: [4.042, 4.5666], yDomain: [-0.0218, 0.458],
    tTicks: [4.2, 4.4], yTicks: [0, 0.1, 0.2, 0.3, 0.4], yMinor: [], yFormat: fmt1,
    labels: ['Normal', 'T1 Anomaly', 'T3 Anomaly'], dotColors: [DOT_BLUE, DOT_YELLOW, RED],
    draw: (plot, x, y) => drawLinMarks(plot, x, y, {
        strayT: hijackStrayT, strayV: hijackStrayV, dense: hijackT3Dense, sparse: hijackT3Sparse,
        upper: hijackT3Upper, special: hijackT1Columns, color: DOT_YELLOW, arrow: hijackArrow
    })
});
scatterPanel({
    box: lowBox(3), yLabelX: 938, log: false,
    tDomain: [4.0425, 4.563], yDomain: [-0.02, 0.429],
    tTicks: [4.2, 4.4], yTicks: [0, 0.1, 0.2, 0.3, 0.4], yMinor: [], yFormat: fmt1,
    labels: ['Normal', 'T2 Anomaly', 'T3 Anomaly'], dotColors: [DOT_BLUE, GREEN, RED],
    draw: (plot, x, y) => drawLinMarks(plot, x, y, {
        strayT: newStrayT, strayV: newStrayV, dense: newT3Dense, sparse: newT3Sparse,
        upper: newT3Upper, special: newT2Columns, color: GREEN, arrow: newArrow
    })
});
</script>
</body>
</html>
